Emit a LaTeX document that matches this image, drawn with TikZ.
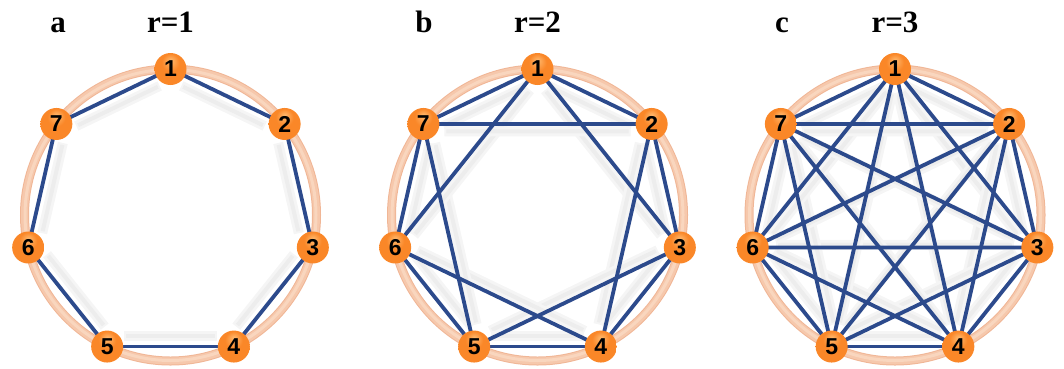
\documentclass[tikz,border=0pt]{standalone}
\usepackage{fontspec}
\setmainfont{Liberation Serif}
\newfontfamily\nodefont{Liberation Sans}
\usetikzlibrary{calc}
\definecolor{edgeblue}{RGB}{44,74,140}
\definecolor{ringedge}{RGB}{240,182,150}
\definecolor{ringmid}{RGB}{246,200,172}
\definecolor{ringcore}{RGB}{249,214,190}
\definecolor{orlight}{RGB}{255,185,110}
\definecolor{ormid}{RGB}{250,135,40}
\definecolor{ordark}{RGB}{222,92,12}
\pgfdeclareradialshading{orb}{\pgfpoint{0bp}{14bp}}{%
  color(0bp)=(orlight); color(14bp)=(ormid); color(30bp)=(ormid);
  color(44bp)=(ordark); color(50bp)=(ordark)}
\pgfdeclarelayer{shadow}
\pgfdeclarelayer{bg}
\pgfsetlayers{shadow,bg,main}
\begin{document}
\begin{tikzpicture}[x=1pt,y=-1pt,
  vertex/.style={circle,minimum size=32pt,inner sep=0pt,shading=orb,
    font=\nodefont\bfseries\fontsize{23}{23}\selectfont,text=black},
  title/.style={anchor=base,font=\bfseries\fontsize{31}{31}\selectfont},
  link/.style={draw=edgeblue,line width=3.8pt},
  shade1/.style={draw=black!4,line width=10pt,shorten >=12pt,shorten <=12pt},
  shade2/.style={draw=black!7,line width=4pt,shorten >=14pt,shorten <=14pt},
  ringstyle/.style={line width=9pt}]
\useasboundingbox (0,0) rectangle (1064,368);
\foreach \cx/\lab/\tx/\rr in {170.5/a/58/1, 537.5/b/424/2, 895/c/782/3}{
  \node[title] (t\lab) at (\tx,32) {\lab};
  \node[title] (r\lab) at (\cx,32) {r=\rr};
  \coordinate (o\lab) at (\cx,215);
  \begin{pgfonlayer}{bg}
    \draw[ringstyle,draw=ringedge] (o\lab) circle[radius=146];
    \draw[draw=ringmid,line width=7pt] (o\lab) circle[radius=146];
    \draw[draw=ringcore,line width=3pt] (o\lab) circle[radius=145.5];
  \end{pgfonlayer}
  \foreach \k in {1,...,7}{
    \pgfmathsetmacro\ang{90-(\k-1)*360/7}
    \node[vertex] (\lab-\k) at ({\cx+146*cos(\ang)},{215-146*sin(\ang)}) {\k};
  }
  \foreach \k in {1,...,7}{
    \foreach \d in {1,...,\rr}{
      \pgfmathtruncatemacro\j{mod(\k+\d-1,7)+1}
      \begin{pgfonlayer}{shadow}
        \draw[shade1] ($(o\lab)!0.92!(\lab-\k.center)$) -- ($(o\lab)!0.92!(\lab-\j.center)$);
        \draw[shade2] ($(o\lab)!0.92!(\lab-\k.center)$) -- ($(o\lab)!0.92!(\lab-\j.center)$);
      \end{pgfonlayer}
      \begin{pgfonlayer}{bg}
        \draw[link] (\lab-\k.center) -- (\lab-\j.center);
      \end{pgfonlayer}
    }
  }
}
\end{tikzpicture}
\end{document}
